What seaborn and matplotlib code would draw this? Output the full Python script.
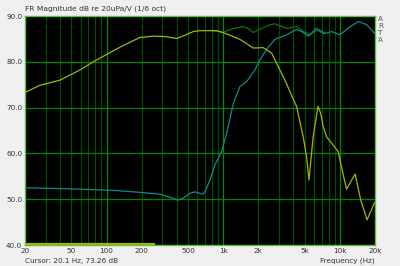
import numpy as np
import pandas as pd
import matplotlib
matplotlib.use("Agg")
import matplotlib.pyplot as plt
import seaborn as sns

# ---- data ----
woofer_f = [20, 27, 40, 59, 77, 100, 140, 193, 252, 320, 400, 470, 554, 632, 800, 880,
            1070, 1390, 1810, 2200, 2600, 3060, 3380, 4260, 4850, 5180, 5430, 5900, 6490,
            6840, 7200, 7700, 9670, 10300, 11400, 12500, 13500, 15100, 17100, 19700, 20000]
woofer_db = [73.3, 74.9, 76.0, 78.2, 80.0, 81.6, 83.6, 85.3, 85.6, 85.5, 85.1, 85.8, 86.6, 86.8, 86.8, 86.8,
             86.1, 84.9, 83.0, 83.1, 81.9, 78.2, 76.0, 70.2, 63.6, 59.3, 54.2, 63.6, 70.3,
             68.8, 65.8, 63.6, 60.4, 57.1, 52.2, 54.0, 55.5, 49.8, 45.5, 49.1, 49.3]

tweeter_f = [20, 59, 120, 193, 288, 350, 412, 460, 518, 573, 667, 697, 769, 850, 970,
             1070, 1220, 1390, 1590, 1870, 2060, 2400, 2770, 3500, 4260, 4800, 5360, 6300,
             7450, 8500, 10000, 12000, 14400, 17000, 20000]
tweeter_db = [52.5, 52.2, 51.9, 51.5, 51.1, 50.4, 49.8, 50.3, 51.3, 51.6, 51.1, 51.6, 54.2, 57.5, 60.4,
              64.4, 70.9, 74.6, 75.7, 78.2, 80.4, 83.0, 84.9, 85.9, 87.1, 86.5, 85.6, 87.3,
              86.2, 86.6, 85.9, 87.5, 88.8, 88.1, 86.1]

sum_f = [800, 1000, 1200, 1490, 1650, 1810, 2100, 2450, 2770, 3100, 3500, 4260, 4900,
         5540, 6300, 7200, 7450]
sum_db = [86.8, 86.5, 87.2, 87.7, 87.2, 86.4, 87.2, 88.0, 88.3, 87.8, 87.3, 87.7, 86.6,
          85.9, 86.9, 86.2, 86.2]

marker_f = [20, 255]
marker_db = [40.3, 40.3]

xticks = [20, 50, 100, 200, 500, 1000, 2000, 5000, 10000, 20000]
xlabels = ["20", "50", "100", "200", "500", "1k", "2k", "5k", "10k", "20k"]
yticks = [40, 50, 60, 70, 80, 90]
ylabels = ["40.0", "50.0", "60.0", "70.0", "80.0", "90.0"]

df = pd.concat([
    pd.DataFrame({"f": sum_f, "db": sum_db, "s": "sum"}),
    pd.DataFrame({"f": tweeter_f, "db": tweeter_db, "s": "tweeter"}),
    pd.DataFrame({"f": woofer_f, "db": woofer_db, "s": "woofer"}),
])
colors = {"sum": "#127012", "tweeter": "#0f8a8a", "woofer": "#a8b400"}

fig = plt.figure(figsize=(4.0, 2.66), dpi=100, facecolor="#f0f0f0")
ax = fig.add_axes([25/400, 1-245/266, 350/400, 229/266])
ax.set_facecolor("black")
ax.set_xscale("log")
ax.set_xlim(20, 20000)
ax.set_ylim(40, 90)

# grid
minor = []
for dec in [10, 100, 1000, 10000]:
    for m in range(2, 10):
        v = dec * m
        if 20 < v < 20000:
            minor.append(v)
for v in minor:
    ax.axvline(v, color="#004d00", lw=0.9, zorder=1)
for v in [100, 1000, 10000]:
    ax.axvline(v, color="#008a00", lw=0.9, zorder=1)
for v in [50, 60, 70, 80]:
    ax.axhline(v, color="#008400", lw=0.9, zorder=1)

sns.lineplot(data=df, x="f", y="db", hue="s", palette=colors, sort=False,
             estimator=None, lw=0.9, legend=False, ax=ax, zorder=3)
sns.lineplot(x=marker_f, y=marker_db, color="#a8b400", lw=1.6, ax=ax, zorder=3)

ax.set_xticks(xticks)
ax.set_xticklabels(xlabels)
ax.xaxis.set_minor_locator(matplotlib.ticker.NullLocator())
ax.set_yticks(yticks)
ax.set_yticklabels(ylabels)
ax.tick_params(length=0, labelsize=5.2, colors="#333333", pad=2)
ax.set_xlabel("")
ax.set_ylabel("")
for s in ax.spines.values():
    s.set_color("#5cc040")
    s.set_linewidth(1.0)

fig.text(25/400, 1-9/266, "FR Magnitude dB re 20uPa/V (1/6 oct)", fontsize=5.4,
         color="#333333", va="center", ha="left")
fig.text(25/400, 1-261/266, "Cursor: 20.1 Hz, 73.26 dB", fontsize=5.2,
         color="#333333", va="center", ha="left")
fig.text(375/400, 1-261/266, "Frequency (Hz)", fontsize=5.2,
         color="#333333", va="center", ha="right")
for i, ch in enumerate("ARTA"):
    fig.text(378/400, 1-(19 + 7*i)/266, ch, fontsize=5.2, color="#555555",
             va="center", ha="left")

fig.savefig("out.png", dpi=100, facecolor=fig.get_facecolor())
